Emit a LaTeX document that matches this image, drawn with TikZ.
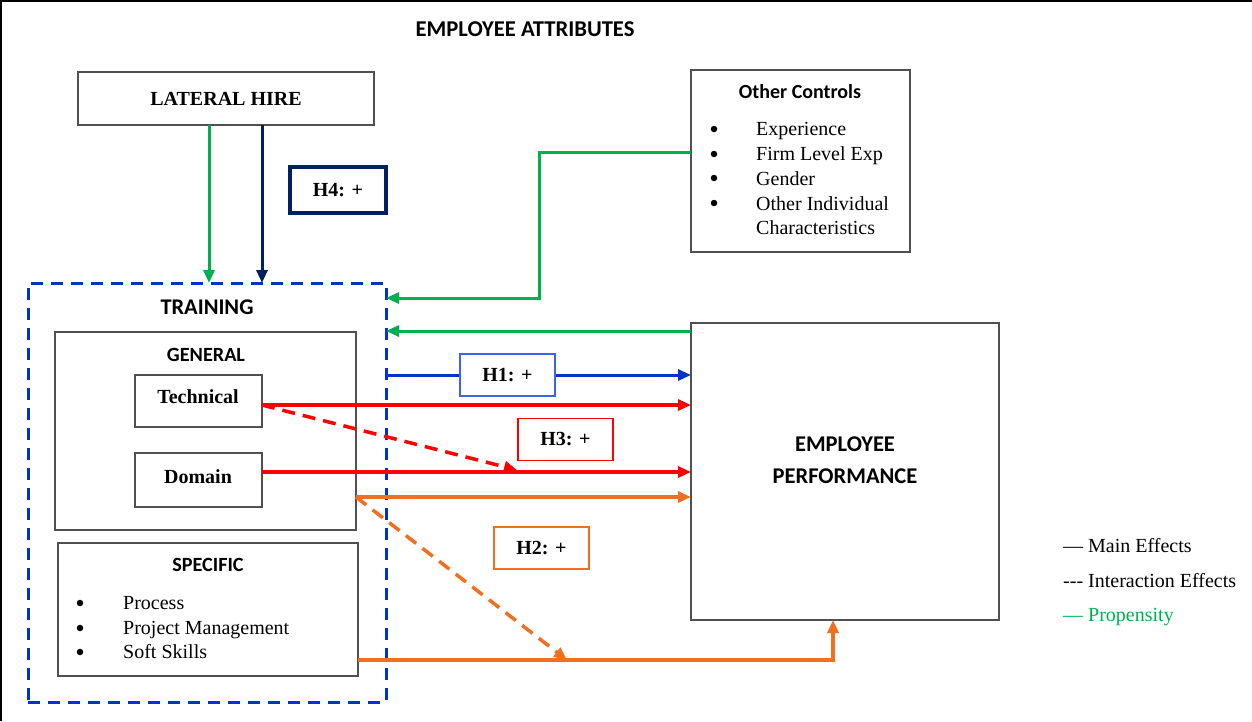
\documentclass[tikz,border=0pt]{standalone}
\usepackage{fontspec}
\usetikzlibrary{arrows.meta}
\newfontfamily\tnr{Liberation Serif}
\newfontfamily\calfont{Carlito}
\definecolor{cgreen}{RGB}{0,176,80}
\definecolor{cnavy}{RGB}{0,32,96}
\definecolor{cblue}{RGB}{0,51,204}
\definecolor{clblue}{RGB}{60,100,230}
\definecolor{cred}{RGB}{255,0,0}
\definecolor{corange}{RGB}{240,112,32}
\definecolor{cgray}{RGB}{80,80,80}
\begin{document}
\begin{tikzpicture}[x=1pt,y=-1pt,
  box/.style={draw=cgray,line width=1.2,fill=white,inner sep=0,outer sep=0,anchor=north west},
  hbox/.style={fill=white,inner sep=0,outer sep=0,minimum width=95,minimum height=42,
    font=\tnr\bfseries\fontsize{20}{24}\selectfont},
  serifb/.style={font=\tnr\bfseries\fontsize{20}{24}\selectfont,inner sep=0},
  serifr/.style={font=\tnr\fontsize{20}{24}\selectfont,inner sep=0,anchor=base west},
  sansb/.style={font=\calfont\bfseries\fontsize{#1}{#1}\selectfont,inner sep=0},
  dot/.style={circle,fill=black,inner sep=0,minimum size=6.5},
  arr/.style={line width=3,-{Triangle[length=13,width=11]}},
  darr/.style={arr,dash pattern=on 13 off 8},
  ]
\useasboundingbox (0,0) rectangle (1252,721);
% frame on the top and left edges
\draw[line width=2.5] (1,721) -- (1,1) -- (1252,1);

% heading
\node[sansb=22.6] (title) at (525,29) {EMPLOYEE ATTRIBUTES};

% lateral hire
\node[box,minimum width=296,minimum height=53] (lh) at (78,72) {};
\node[serifb] (lht) at (lh.center) {LATERAL HIRE};

% training block
\node[draw=cblue,line width=3,dash pattern=on 12 off 8,inner sep=0,outer sep=0,
  minimum width=358,minimum height=419,anchor=north west] (train) at (28,283) {};
\node[sansb=22.4] (traint) at (207,307) {TRAINING};

\node[box,minimum width=301,minimum height=198] (gen) at (55,332) {};
\node[sansb=20.2] (gent) at (206,355) {GENERAL};
\node[box,minimum width=127,minimum height=52] (tech) at (135,375) {};
\node[serifb] (techt) at (198,397) {Technical};
\node[box,minimum width=127,minimum height=54] (dom) at (135,453) {};
\node[serifb] (domt) at (198,477) {Domain};

\node[box,minimum width=300,minimum height=133] (spec) at (58,543) {};
\node[sansb=20.2] (spect) at (208,565) {SPECIFIC};
\node[dot] (sb1) at (80,603) {};
\node[dot] (sb2) at (80,628) {};
\node[dot] (sb3) at (80,652) {};
\node[serifr] (st1) at (123,609) {Process};
\node[serifr] (st2) at (123,634) {Project Management};
\node[serifr] (st3) at (123,658) {Soft Skills};

% other controls
\node[box,minimum width=219,minimum height=182] (oc) at (691,70) {};
\node[sansb=20] (oct) at (800,92) {Other Controls};
\node[dot] (ob1) at (714,129) {};
\node[dot] (ob2) at (714,154) {};
\node[dot] (ob3) at (714,178) {};
\node[dot] (ob4) at (714,203) {};
\node[serifr] (ot1) at (756,135) {Experience};
\node[serifr] (ot2) at (756,160) {Firm Level Exp};
\node[serifr] (ot3) at (756,185) {Gender};
\node[serifr] (ot4) at (756,210) {Other Individual};
\node[serifr] (ot5) at (756,234) {Characteristics};

% outcome
\node[box,minimum width=308,minimum height=297] (ep) at (691,323) {};
\node[inner sep=0,align=center,font=\calfont\bfseries\fontsize{22.5}{32}\selectfont] (ept) at (845,460) {EMPLOYEE\\PERFORMANCE};

% attachment points
\coordinate (ocA) at ([yshift=9]oc.west);
\coordinate (gbend) at (539,298);
\coordinate (epG) at ([yshift=-8]ep.north west);
\coordinate (epB) at ([yshift=-52]ep.north west);
\coordinate (techA) at ([yshift=-4]tech.east);
\coordinate (domA) at ([yshift=8]dom.east);
\coordinate (genA) at ([yshift=33]gen.south east);
\coordinate (specA) at ([yshift=-50.5]spec.east);
\coordinate (h3tip) at (517,470);
\coordinate (h2tip) at (567,660);

% lateral hire effects
\draw[arr,cgreen] ([xshift=-17]lh.south) -- ([xshift=-17]lh.south |- train.north);
\draw[arr,cnavy] ([xshift=36]lh.south) -- ([xshift=36]lh.south |- train.north);

% propensity links
\draw[arr,cgreen] (ocA) -| (gbend) -- (gbend -| train.east);
\draw[arr,cgreen] (epG) -- (epG -| train.east);

% main effects
\draw[arr,cblue] (epB -| train.east) -- (epB);
\draw[arr,cred,line width=3.5] (techA) -- (techA -| ep.west);
\draw[arr,cred,line width=3.5] (domA) -- (domA -| ep.west);
\draw[arr,corange,line width=3.5] (genA) -- (genA -| ep.west);
\draw[arr,corange,line width=3.5] (specA) -| ([xshift=-12]ep.south);

% interaction effects
\draw[darr,cred,line width=3.5] (techA) -- (h3tip);
\draw[darr,corange,line width=3.5] (genA) -- (h2tip);

% hypothesis labels
\node[hbox,draw=cnavy,line width=4.5,minimum width=96,minimum height=46] (h4) at (338,190) {H4: +};
\node[hbox,draw=clblue,line width=1.3] (h1) at (507.5,375) {H1: +};
\node[hbox,draw=cred,line width=1.3] (h3) at (565.5,439.5) {H3: +};
\node[hbox,draw=corange,line width=1.3] (h2) at (541.5,548) {H2: +};

% legend
\node[serifr] (lg1) at (1063,552) {— Main Effects};
\node[serifr] (lg2) at (1063,587) {\mbox{-}\mbox{-}\mbox{-} Interaction Effects};
\node[serifr,text=cgreen] (lg3) at (1063,621) {— Propensity};
\end{tikzpicture}
\end{document}
